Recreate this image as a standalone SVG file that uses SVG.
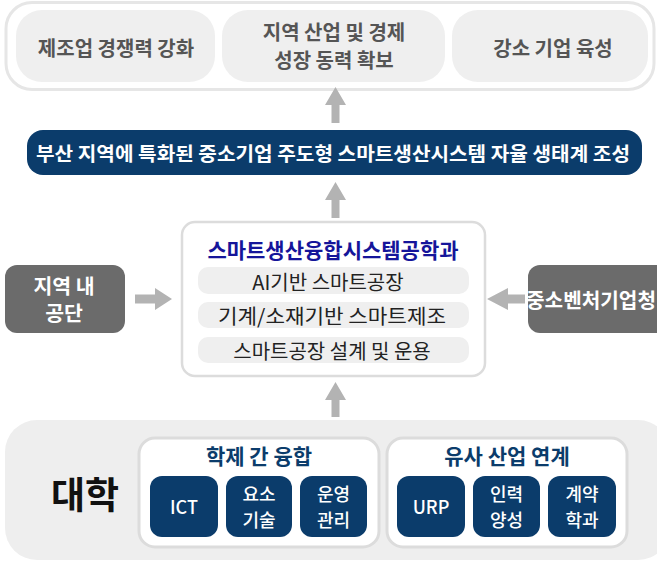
<svg xmlns="http://www.w3.org/2000/svg" width="657" height="562" viewBox="0 0 657 562">
<defs>
<style>
text{font-family:"Noto Sans CJK KR","Noto Sans",sans-serif;text-anchor:middle;dominant-baseline:central}
.goal{fill:#efefef}
.gt{font-size:20px;font-weight:700;fill:#555}
.arrow{fill:#b3b3b3}
.pill{fill:#efefef}
.pt{font-size:20px;font-weight:400;fill:#222}
.side{fill:#6b6b6b}
.st{font-size:20.5px;font-weight:700;fill:#fff}
.navy{fill:#0b3c6b}
.nt{font-size:18px;font-weight:500;fill:#fff}
.grp{fill:#fff;stroke:#dcdcdc;stroke-width:3}
.grt{font-size:21px;font-weight:700;fill:#0b3c6b}
</style>
</defs>
<rect width="657" height="562" fill="#fff"/>

<g id="goals">
<rect x="6" y="2.5" width="648" height="87" rx="26" fill="#fff" stroke="#e6e6e6" stroke-width="3"/>
<g id="goal1"><rect class="goal" x="16" y="10" width="199" height="72" rx="26"/><text class="gt" x="116" y="47">제조업 경쟁력 강화</text></g>
<g id="goal2"><rect class="goal" x="222" y="10" width="223" height="72" rx="26"/><text class="gt" x="334" y="31" font-size="19">지역 산업 및 경제</text><text class="gt" x="334" y="59" font-size="19">성장 동력 확보</text></g>
<g id="goal3"><rect class="goal" x="452" y="10" width="196" height="72" rx="26"/><text class="gt" x="553" y="47">강소 기업 육성</text></g>
</g>

<g id="vision">
<rect class="navy" x="27" y="130" width="615" height="45" rx="16"/>
<text x="333" y="152.5" font-size="19.5" font-weight="700" fill="#fff" textLength="594" lengthAdjust="spacingAndGlyphs">부산 지역에 특화된 중소기업 주도형 스마트생산시스템 자율 생태계 조성</text>
</g>

<g id="dept">
<rect x="182" y="222" width="303" height="154" rx="13" fill="#fff" stroke="#dcdcdc" stroke-width="2.5"/>
<text x="333" y="249" font-size="21" font-weight="700" fill="#15159a">스마트생산융합시스템공학과</text>
<rect class="pill" x="198" y="267" width="271" height="27" rx="10"/>
<text class="pt" x="328" y="281">AI기반 스마트공장</text>
<rect class="pill" x="198" y="302" width="271" height="26" rx="10"/>
<text class="pt" x="332" y="315" textLength="228" lengthAdjust="spacingAndGlyphs">기계/소재기반 스마트제조</text>
<rect class="pill" x="198" y="337" width="271" height="26" rx="10"/>
<text class="pt" x="332" y="350">스마트공장 설계 및 운용</text>
</g>

<g id="complex">
<rect class="side" x="5" y="265" width="120" height="68" rx="12"/>
<text class="st" x="64" y="285">지역 내</text>
<text class="st" x="64" y="312">공단</text>
</g>

<g id="smba">
<rect class="side" x="528" y="265" width="150" height="68" rx="12"/>
<text class="st" x="591" y="299" textLength="130" lengthAdjust="spacingAndGlyphs">중소벤처기업청</text>
</g>

<g id="univ">
<rect x="5" y="420" width="665" height="140" rx="32" fill="#eeeeee"/>
<text x="85" y="493" font-size="37" font-weight="700" fill="#111">대학</text>
<g id="grp1">
<rect class="grp" x="139" y="438" width="240" height="109" rx="16"/>
<text class="grt" x="259" y="455">학제 간 융합</text>
<rect class="navy" x="150" y="476" width="68" height="61" rx="12"/>
<text class="nt" x="184" y="506" font-size="19">ICT</text>
<rect class="navy" x="226" y="476" width="66" height="61" rx="12"/>
<text class="nt" x="259" y="493">요소</text><text class="nt" x="259" y="519">기술</text>
<rect class="navy" x="300" y="476" width="67" height="61" rx="12"/>
<text class="nt" x="333.5" y="493">운영</text><text class="nt" x="333.5" y="519">관리</text>
</g>
<g id="grp2">
<rect class="grp" x="387" y="438" width="240" height="109" rx="16"/>
<text class="grt" x="507" y="455">유사 산업 연계</text>
<rect class="navy" x="397" y="476" width="68" height="61" rx="12"/>
<text class="nt" x="431" y="506" font-size="19">URP</text>
<rect class="navy" x="473" y="476" width="67" height="61" rx="12"/>
<text class="nt" x="506.5" y="493">인력</text><text class="nt" x="506.5" y="519">양성</text>
<rect class="navy" x="548" y="476" width="68" height="61" rx="12"/>
<text class="nt" x="582" y="493">계약</text><text class="nt" x="582" y="519">학과</text>
</g>
</g>

<g id="connectors">
<path class="arrow" d="M335.5,87 L346,105 L339.5,105 L339.5,123 L331.5,123 L331.5,105 L325,105 Z"/>
<path class="arrow" d="M335.5,182 L346,200 L339.5,200 L339.5,218 L331.5,218 L331.5,200 L325,200 Z"/>
<path class="arrow" d="M335.5,382 L346,400 L339.5,400 L339.5,417 L331.5,417 L331.5,400 L325,400 Z"/>
<path class="arrow" d="M172,299 L155,288 L155,294.5 L135,294.5 L135,303.5 L155,303.5 L155,310 Z"/>
<path class="arrow" d="M487,299 L508,288 L508,294.5 L525,294.5 L525,303.5 L508,303.5 L508,310 Z"/>
</g>
</svg>
